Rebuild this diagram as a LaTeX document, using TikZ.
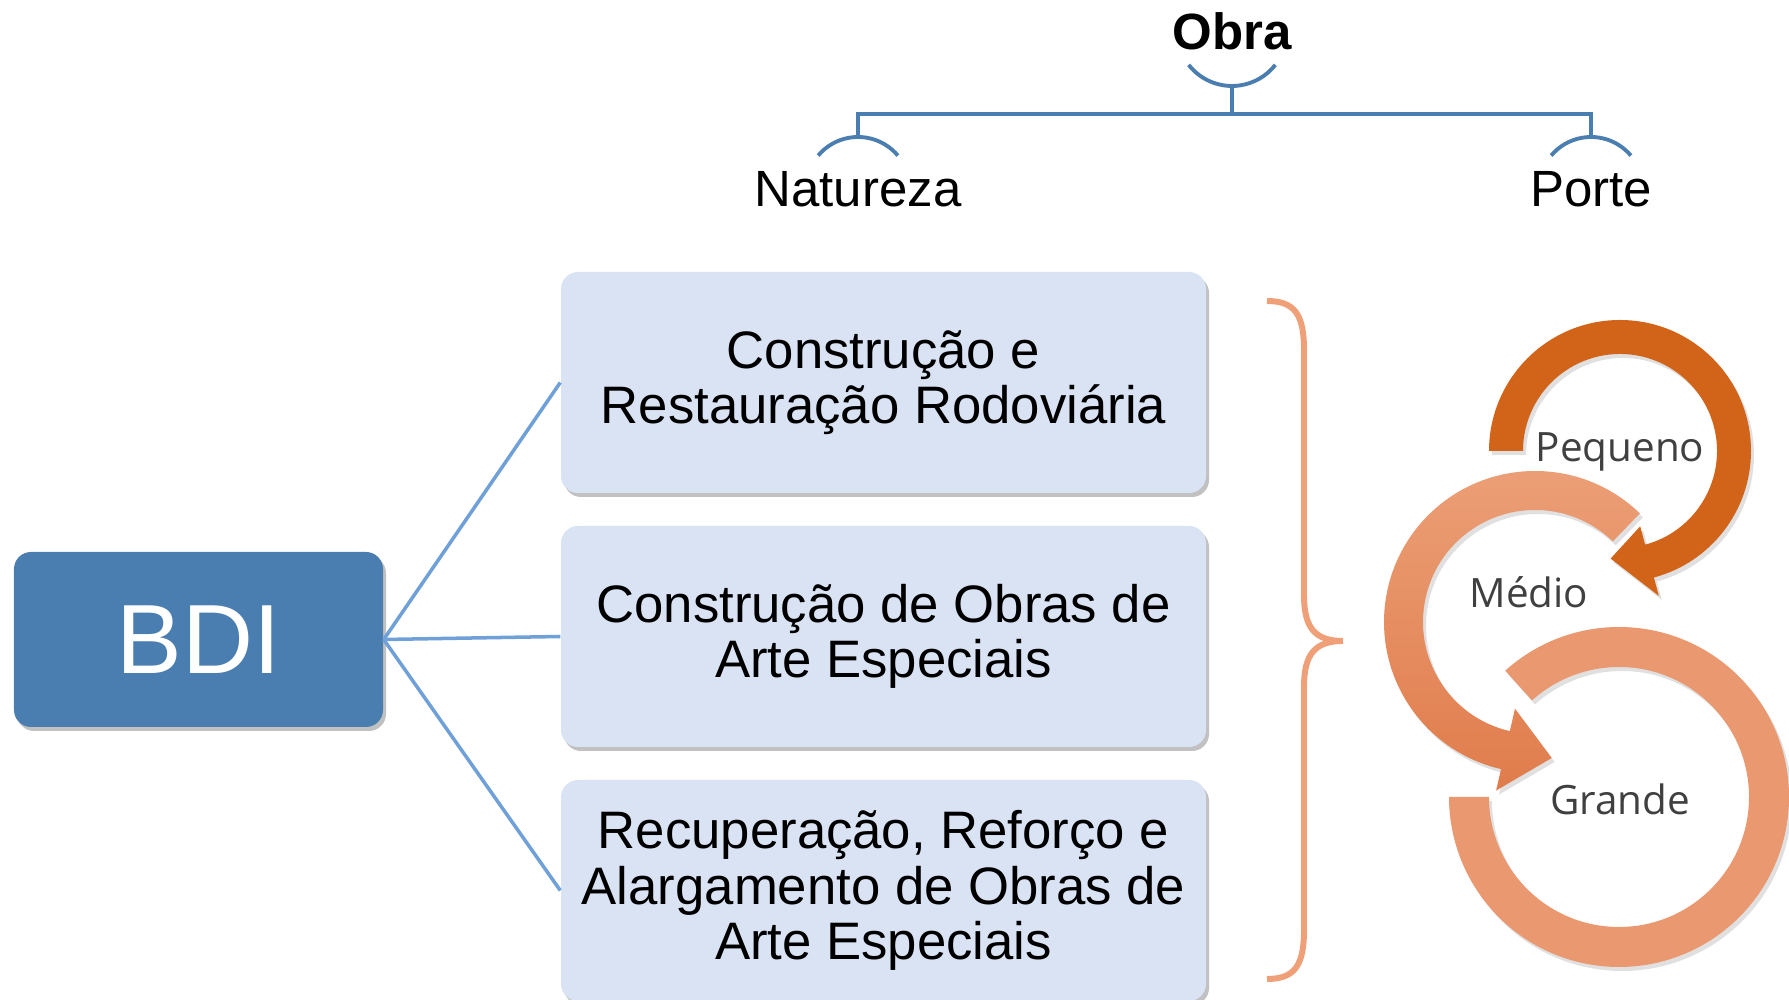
\documentclass[tikz,border=0pt]{standalone}
\usepackage{fontspec}
\setmainfont{Liberation Sans}
\newfontfamily\ringfont{Open Sans}
\usepackage{xcolor}
\usepackage{tikz}
\usetikzlibrary{shadows}

\definecolor{bdiblue}{RGB}{74,126,177}
\definecolor{boxfill}{RGB}{218,227,243}
\definecolor{linkblue}{RGB}{112,160,216}
\definecolor{treeblue}{RGB}{74,126,177}
\definecolor{braceorange}{RGB}{240,160,120}
\definecolor{smallring}{RGB}{210,100,26}
\definecolor{midringtop}{RGB}{236,160,120}
\definecolor{midringbot}{RGB}{224,124,76}
\definecolor{bigring}{RGB}{234,152,112}
\definecolor{ringtext}{RGB}{64,64,64}

\begin{document}
\begin{tikzpicture}
        \def\boxx{8.835}
        \def\yoffset{-3.825}
        \def\yspacing{-2.54}

        \tikzset{
           title/.style={font=\fontsize{14.5}{16}\selectfont},
           itembox/.style={
              rectangle, rounded corners=0.17cm, fill=boxfill,
              minimum width=6.45cm, minimum height=2.21cm,
              align=center, inner sep=2pt,
              font=\fontsize{15}{15.7}\selectfont,
              drop shadow={shadow xshift=0.03cm, shadow yshift=-0.04cm, opacity=0.35, fill=black!70}
           },
           link/.style={draw=linkblue, line width=1pt},
           tree/.style={draw=treeblue, line width=1.1pt},
           ringshadow/.style={drop shadow={shadow xshift=0.03cm, shadow yshift=-0.04cm, opacity=0.2, fill=black!60}},
           ringlabel/.style={font=\ringfont\fontsize{11.5}{13}\selectfont, text=ringtext}
        }

        \useasboundingbox (0,0) rectangle (17.89,-10);

        % Obra
        \node[title, font=\bfseries\fontsize{14.5}{16}\selectfont] (obra) at (12.32,-0.31) {Obra};
        \node[title] (natureza) at (8.58,-1.89) {Natureza};
        \node[title] (porte) at (15.91,-1.89) {Porte};

        \draw[tree] ([shift={(218:0.55)}]obra.center) arc[start angle=218, end angle=322, radius=0.55];
        \draw[tree] ([shift={(40:0.52)}]natureza.center) arc[start angle=40, end angle=140, radius=0.52];
        \draw[tree] ([shift={(40:0.52)}]porte.center) arc[start angle=40, end angle=140, radius=0.52];

        \coordinate (obrajoin) at ([yshift=-0.55cm]obra.center);
        \coordinate (naturezajoin) at ([yshift=0.52cm]natureza.center);
        \coordinate (portejoin) at ([yshift=0.52cm]porte.center);

        \draw[tree] (obrajoin) -- ++(0,-0.28) -| (naturezajoin);
        \draw[tree] (obrajoin) -- ++(0,-0.28) -| (portejoin);

        % Natureza boxes
        \node[itembox] (constr) at (\boxx, \yoffset + 0 * \yspacing) {Construção e\\Restauração Rodoviária};
        \node[itembox] (artes) at (\boxx, \yoffset + 1 * \yspacing) {Construção de Obras de\\Arte Especiais};
        \node[itembox] (recup) at (\boxx, \yoffset + 2 * \yspacing) {Recuperação, Reforço e\\Alargamento de Obras de\\Arte Especiais};

        % BDI
        \node[rectangle, rounded corners=0.17cm, fill=bdiblue, text=white,
              minimum width=3.69cm, minimum height=1.75cm,
              font=\fontsize{28}{30}\selectfont,
              drop shadow={shadow xshift=0.03cm, shadow yshift=-0.04cm, opacity=0.35, fill=black!70}]
              (bdi) at (1.985,-6.395) {BDI};

        \draw[link] (bdi.east) -- (constr.west);
        \draw[link] (bdi.east) -- (artes.west);
        \draw[link] (bdi.east) -- (recup.west);

        % Brace
        \draw[braceorange, line width=1.7pt]
            (12.67,-3.01) .. controls (12.95,-3.01) and (13.04,-3.15) .. (13.04,-3.50)
            -- (13.04,-5.95) .. controls (13.04,-6.28) and (13.15,-6.41) .. (13.43,-6.41)
            .. controls (13.15,-6.41) and (13.04,-6.54) .. (13.04,-6.87)
            -- (13.04,-9.30) .. controls (13.04,-9.65) and (12.95,-9.79) .. (12.67,-9.79);

        % Porte rings
        \begin{scope}[shift={(16.19,-7.97)}]
            \fill[bigring, ringshadow] (132:1.70) arc[start angle=132, end angle=-180, radius=1.70]
                -- (180:1.30) arc[start angle=-180, end angle=132, radius=1.30] -- cycle;
        \end{scope}
        \begin{scope}[shift={(15.35,-6.22)}]
            \path[top color=midringtop, bottom color=midringbot, ringshadow]
                (46:1.51) arc[start angle=46, end angle=257, radius=1.51]
                -- (257:1.73) -- (277:1.37) -- (257:0.89) -- (257:1.12)
                arc[start angle=257, end angle=46, radius=1.12] -- cycle;
        \end{scope}
        \begin{scope}[shift={(16.20,-4.51)}]
            \fill[smallring, ringshadow] (180:1.31) arc[start angle=180, end angle=-75, radius=1.31]
                -- (-75:1.50) -- (-95:1.08) -- (-75:0.78) -- (-75:0.97)
                arc[start angle=-75, end angle=180, radius=0.97] -- cycle;
        \end{scope}

        \node[ringlabel] (pequeno) at (16.20,-4.52) {Pequeno};
        \node[ringlabel] (medio) at (15.29,-5.92) {Médio};
        \node[ringlabel] (grande) at (16.20,-7.99) {Grande};
\end{tikzpicture}
\end{document}
